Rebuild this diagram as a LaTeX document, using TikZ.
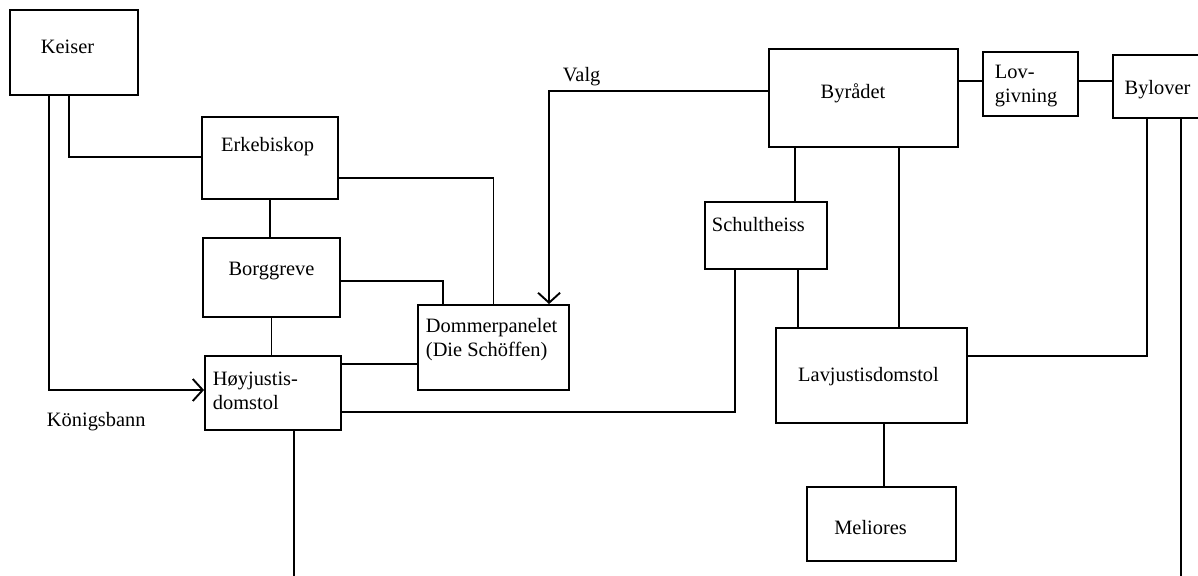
\documentclass[tikz,border=0pt]{standalone}
\usepackage{fontspec}
\setmainfont{Liberation Serif}
\usetikzlibrary{arrows.meta,calc}
\begin{document}
\begin{tikzpicture}[x=0.5pt,y=-0.5pt, line width=0.95pt,
  box/.style={draw, rectangle, inner sep=0pt},
  lbl/.style={inner sep=0pt, font=\fontsize{10.2}{12}\selectfont},
  arr/.style={-{Straight Barb[length=5pt,width=11pt]}}]
\useasboundingbox (0,0) rectangle (1198,576);
\clip (0,0) rectangle (1198,576);
\coordinate (bottom) at (0,582);
% boxes
\node[box, minimum width=64pt, minimum height=42.5pt] (keiser) at (74,52.5) {};
\node[box, minimum width=68pt, minimum height=41pt] (erke) at (270,158) {};
\node[box, minimum width=68.5pt, minimum height=39.5pt] (borg) at (271.5,277.5) {};
\node[box, minimum width=68pt, minimum height=37pt] (hoy) at (273,393) {};
\node[box, minimum width=75.5pt, minimum height=42.5pt] (dom) at (493.5,347.5) {};
\node[box, minimum width=94.5pt, minimum height=49pt] (byr) at (863.5,98) {};
\node[box, minimum width=47.5pt, minimum height=32pt] (lov) at (1030.5,84) {};
\node[box, minimum width=48.5pt, minimum height=31.5pt] (bylov) at (1161.5,86.5) {};
\node[box, minimum width=61pt, minimum height=33.5pt] (schult) at (766,235.5) {};
\node[box, minimum width=95.5pt, minimum height=47.5pt] (lav) at (871.5,375.5) {};
\node[box, minimum width=74.5pt, minimum height=37pt] (mel) at (881.5,524) {};
% labels
\node[lbl, anchor=base west] (tkeiser) at (40,53.3) {Keiser};
\node[lbl, anchor=base] (terke) at (267.5,151.7) {Erkebiskop};
\node[lbl, anchor=base] (tborg) at (271.5,276) {Borggreve};
\node[lbl, anchor=base west] (tvalg) at (562,81.7) {Valg};
\node[lbl, anchor=north west, align=left] (thoy) at (212,371) {Høyjustis-\\domstol};
\node[lbl, anchor=base west] (tkon) at (46,427) {Königsbann};
\node[lbl, anchor=north west, align=left] (tdom) at (425,317) {Dommerpanelet\\(Die Schöffen)};
\node[lbl, anchor=base] (tbyr) at (853,99) {Byrådet};
\node[lbl, anchor=north west, align=left] (tlov) at (994,64.6) {Lov-\\givning};
\node[lbl, anchor=base] (tbylov) at (1157.5,94.3) {Bylover};
\node[lbl, anchor=base west] (tschult) at (711,231.7) {Schultheiss};
\node[lbl, anchor=base] (tlav) at (868.5,381.7) {Lavjustisdomstol};
\node[lbl, anchor=base] (tmel) at (870.6,534) {Meliores};
% connectors
\draw[arr] ([xshift=20pt]keiser.south west) |- ([yshift=1.5pt]hoy.west);
\draw ([xshift=30pt]keiser.south west) |- ([yshift=0.65pt]erke.west);
\draw ([yshift=-10pt]erke.east) -| (dom.north);
\draw (erke.south) -- (erke.south |- borg.north);
\draw ([yshift=-1.75pt]borg.east) -| ([xshift=13pt]dom.north west);
\draw[arr] ([yshift=3.65pt]byr.west) -| ([xshift=66pt]dom.north west);
\draw (borg.south) -- (borg.south |- hoy.north);
\draw ([yshift=14.5pt]hoy.east) -- ([yshift=14.5pt]hoy.east -| dom.west);
\draw ([yshift=-9.35pt]hoy.east) -| ([xshift=15.5pt]schult.south west);
\draw ([xshift=10.5pt]hoy.south) -- ([xshift=10.5pt]hoy.south |- bottom);
\draw ([yshift=1.5pt]lov.west -| byr.east) -- ([yshift=1.5pt]lov.west);
\draw ([yshift=1.5pt]lov.east) -- ([yshift=1.5pt]lov.east -| bylov.west);
\draw ([xshift=17.5pt]bylov.south west) |- ([yshift=9.75pt]lav.east);
\draw ([xshift=34.25pt]bylov.south west) -- ([xshift=34.25pt]bylov.south west |- bottom);
\draw ([xshift=13.5pt]byr.south west) -- ([xshift=13.5pt]byr.south west |- schult.north);
\draw ([xshift=65.5pt]byr.south west) -- ([xshift=65.5pt]byr.south west |- lav.north);
\draw ([xshift=47pt]schult.south west) -- ([xshift=47pt]schult.south west |- lav.north);
\draw ([xshift=6.25pt]lav.south) -- ([xshift=6.25pt]lav.south |- mel.north);
\end{tikzpicture}
\end{document}
